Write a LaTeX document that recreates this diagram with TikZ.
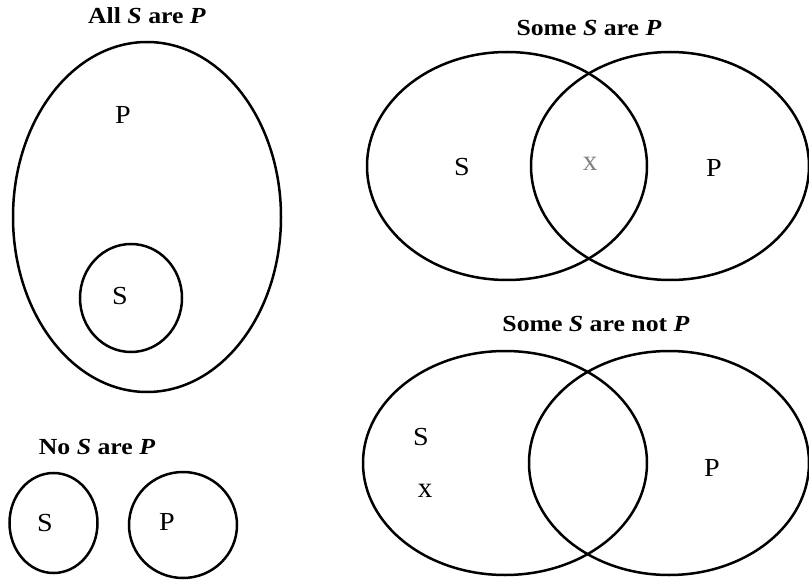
\documentclass[tikz,border=0pt]{standalone}
\usepackage{fontspec}
\setmainfont{Liberation Serif}
\newcommand{\ttlx}[1]{\scalebox{1.12}[1]{#1}}
\newcommand{\lblx}[1]{\scalebox{1.08}[1]{#1}}
\begin{document}
\begin{tikzpicture}[x=1pt,y=-1pt,
  venn/.style={draw=black,line width=2.5pt},
  ttl/.style={font=\fontsize{23}{26}\selectfont\bfseries},
  lbl/.style={font=\fontsize{26}{28}\selectfont},
  mk/.style={font=\fontsize{29}{30}\selectfont}]
\useasboundingbox (0,0) rectangle (809,580);
% All S are P
\node[ttl] (t1) at (147,16) {\ttlx{All \textit{S} are \textit{P}}};
\draw[venn] (147,217) ellipse [x radius=134, y radius=175];
\node[lbl] (p1) at (123,115) {\lblx{P}};
\draw[venn] (131,298) ellipse [x radius=51, y radius=54];
\node[lbl] (s1) at (120,296) {\lblx{S}};
% No S are P
\node[ttl] (t2) at (97,447) {\ttlx{No \textit{S} are \textit{P}}};
\draw[venn] (53.5,523) ellipse [x radius=44, y radius=50];
\node[lbl] (s2) at (45,523) {\lblx{S}};
\draw[venn] (183,525) ellipse [x radius=54, y radius=53];
\node[lbl] (p2) at (167,522) {\lblx{P}};
% Some S are P
\node[ttl] (t3) at (589,28) {\ttlx{Some \textit{S} are \textit{P}}};
\draw[venn] (507,166) ellipse [x radius=140, y radius=114];
\draw[venn] (670,166) ellipse [x radius=139, y radius=114];
\node[lbl] (s3) at (462,167) {\lblx{S}};
\node[mk,text=black!50] (x3) at (590,164) {x};
\node[lbl] (p3) at (714,168) {\lblx{P}};
% Some S are not P
\node[ttl] (t4) at (596,324) {\ttlx{Some \textit{S} are not \textit{P}}};
\draw[venn] (505,463) ellipse [x radius=142, y radius=112];
\draw[venn] (669,463) ellipse [x radius=140, y radius=112];
\node[lbl] (s4) at (421,437) {\lblx{S}};
\node[mk] (x4) at (425,491) {x};
\node[lbl] (p4) at (712,468) {\lblx{P}};
\end{tikzpicture}
\end{document}
